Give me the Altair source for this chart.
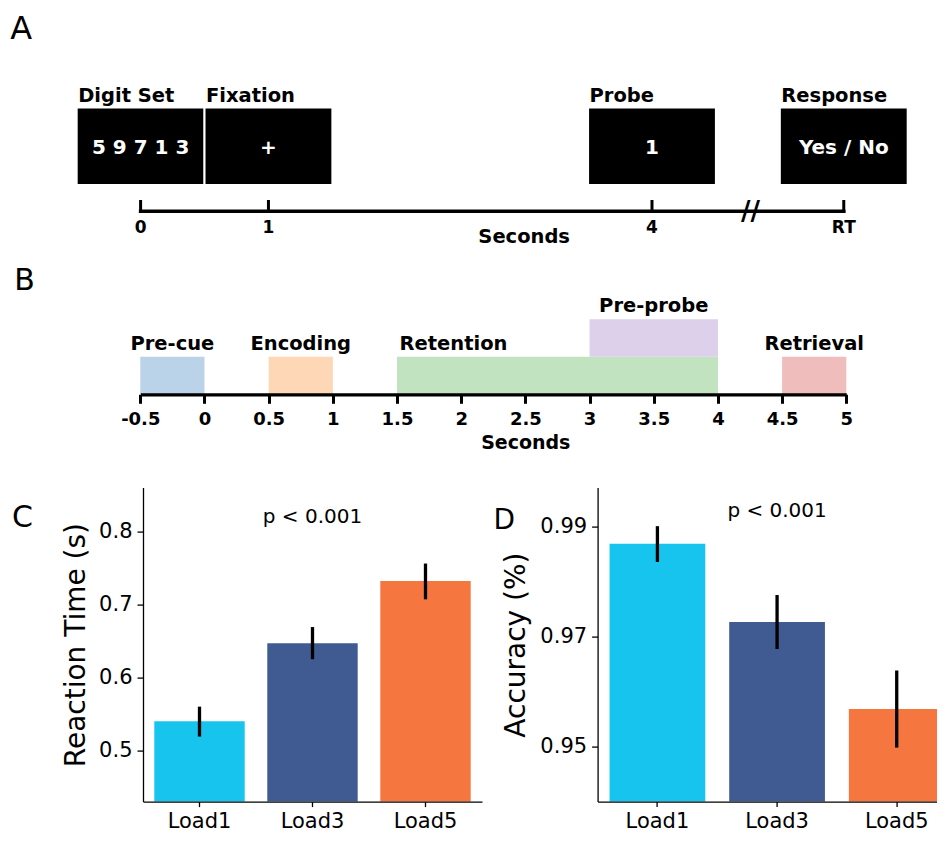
import altair as alt
import pandas as pd

# ---------------- data ----------------
# Panel A: trial structure (seconds)
stim_names = ["Digit Set", "Fixation", "Probe", "Response"]
stim_texts = ["5 9 7 1 3", "+", "1", "Yes / No"]
stim_start = [-0.5, 0.5, 3.5, 5.0]
stim_end = [0.5, 1.5, 4.5, 6.0]
a_tick_pos = [0, 1, 4, 5.5]
a_tick_text = ["0", "1", "4", "RT"]
a_break_pos = [4.77]
a_title = "Seconds"
a_title_pos = [3.0]

# Panel B: analysis windows (seconds)
phase_names = ["Pre-cue", "Encoding", "Retention", "Pre-probe", "Retrieval"]
phase_start = [-0.5, 0.5, 1.5, 3.0, 4.5]
phase_end = [0.0, 1.0, 4.0, 4.0, 5.0]
phase_row = [0, 0, 0, 1, 0]
phase_label_anchor = ["center", "center", "left", "center", "center"]
phase_colors = ["#bad3e8", "#fdd7b6", "#c1e3c0", "#ddd0ea", "#f0bdbd"]
b_tick_values = [-0.5, 0, 0.5, 1, 1.5, 2, 2.5, 3, 3.5, 4, 4.5, 5]

# Panels C and D
loads = ["Load1", "Load3", "Load5"]
load_colors = ["#17c4ed", "#3f5b92", "#f6763f"]
rt_mean = [0.540, 0.647, 0.732]
rt_low = [0.519, 0.625, 0.707]
rt_high = [0.560, 0.669, 0.756]
acc_mean = [0.9868, 0.9726, 0.9568]
acc_low = [0.9835, 0.9677, 0.9498]
acc_high = [0.9900, 0.9775, 0.9638]
p_text = "p < 0.001"
rt_p_y = 0.8113
acc_p_y = 0.9916

# ---------------- layout / style ----------------
FONT = "DejaVu Sans"
A_W, A_H = 794, 192.7
B_W, B_H = 794, 100
C_W, D_W, CD_H = 339, 347, 314
V_SPACE = 93.3
H_SPACE = 115.6
C_DOM = [0.43, 0.86]
D_DOM = [0.94, 0.997]

# ---------- Panel A ----------
A_TL = 203.3  # timeline position inside panel A (px from top)
XA = alt.Scale(domain=[0, 4], range=[-2.4, 509.0], nice=False, zero=False)
YA = alt.Scale(domain=[0, 100], range=[A_TL, A_TL - 100], nice=False, zero=False)


def xa(f):
    return alt.X(f, type="quantitative", scale=XA, axis=None)


def ya(f):
    return alt.Y(f, type="quantitative", scale=YA, axis=None)


stim = pd.DataFrame({"name": stim_names, "text": stim_texts,
                     "start": stim_start, "end": stim_end})
stim["mid"] = (stim["start"] + stim["end"]) / 2
stim["y0"] = 26.3
stim["y1"] = 103.8
stim["ly"] = 109.6
stim["ty"] = 57.8

boxes = alt.Chart(stim).mark_rect(color="black", stroke="white", strokeWidth=2).encode(
    x=xa("start"), x2="end", y=ya("y0"), y2="y1")
box_labels = alt.Chart(stim).mark_text(
    align="left", baseline="alphabetic", fontSize=19.5, fontWeight="bold",
    color="black", dx=1.5).encode(x=xa("start"), y=ya("ly"), text="name:N")
box_texts = alt.Chart(stim).mark_text(
    align="center", baseline="alphabetic", fontSize=20, fontWeight="bold",
    color="white").encode(x=xa("mid"), y=ya("ty"), text="text:N")

line_df = pd.DataFrame({"x0": [min(a_tick_pos)], "x1": [max(a_tick_pos)], "y": [0]})
timeline = alt.Chart(line_df).mark_rule(color="black", strokeWidth=3.5, strokeCap="square").encode(
    x=xa("x0"), x2="x1", y=ya("y"))

ticks_df = pd.DataFrame({"pos": a_tick_pos, "text": a_tick_text})
ticks_df["y0"] = 0
ticks_df["y1"] = 9.8
ticks_df["ly"] = -22
a_ticks = alt.Chart(ticks_df).mark_rule(color="black", strokeWidth=3, strokeCap="square").encode(
    x=xa("pos"), y=ya("y0"), y2="y1")
a_tick_labels = alt.Chart(ticks_df).mark_text(
    align="center", baseline="alphabetic", fontSize=17, fontWeight="bold", color="black").encode(
    x=xa("pos"), y=ya("ly"), text="text:N")

brk_df = pd.DataFrame({"pos": a_break_pos, "t": ["//"] * len(a_break_pos)})
brk_df["y"] = -8.4
a_break = alt.Chart(brk_df).mark_text(
    align="center", baseline="alphabetic", fontSize=26, fontWeight="bold", color="black").encode(
    x=xa("pos"), y=ya("y"), text="t:N")

atitle_df = pd.DataFrame({"pos": a_title_pos, "t": [a_title]})
atitle_df["y"] = -31.2
a_xtitle = alt.Chart(atitle_df).mark_text(
    align="center", baseline="alphabetic", fontSize=19.5, fontWeight="bold", color="black").encode(
    x=xa("pos"), y=ya("y"), text="t:N")


def letter(ch, x, y, size):
    return alt.Chart(pd.DataFrame({"t": [ch]})).mark_text(
        align="left", baseline="alphabetic", fontSize=size, color="black").encode(
        x=alt.value(x), y=alt.value(y), text="t:N")


panel_a = alt.layer(boxes, box_labels, box_texts, timeline, a_ticks, a_tick_labels,
                    a_break, a_xtitle, letter("A", -132.7, 30.5, 32)).properties(
    width=A_W, height=A_H)

# ---------- Panel B ----------
XB = alt.Scale(domain=[-0.5, 5], range=[-2.7, 703.3], nice=False, zero=False)
YB = alt.Scale(domain=[0, 1], range=[B_H, B_H - 37.5], nice=False, zero=False)
b_axis = alt.Axis(values=b_tick_values, labelExpr="datum.value + ''",
                  labelFontSize=18, labelFontWeight="bold", labelPadding=7.5,
                  tickSize=9, tickWidth=3, domainWidth=3.3, grid=False,
                  labelFlush=False, labelOverlap=False, zindex=1,
                  title="Seconds", titleFontSize=19, titleFontWeight="bold",
                  titleX=382.3, titleY=53.9, titleBaseline="alphabetic",
                  titleAlign="center")

ph = pd.DataFrame({"name": phase_names, "start": phase_start, "end": phase_end,
                   "row": phase_row, "anchor": phase_label_anchor, "color": phase_colors})
ph["top"] = ph["row"] + 1
ph["ly"] = ph["top"] + 0.19
ph["lx"] = [s + 0.02 if a == "left" else (s + e) / 2
            for s, e, a in zip(ph["start"], ph["end"], ph["anchor"])]


def xb(f):
    return alt.X(f, type="quantitative", scale=XB, axis=b_axis)


def yb(f):
    return alt.Y(f, type="quantitative", scale=YB, axis=None)


b_bars = alt.Chart(ph).mark_rect().encode(
    x=xb("start"), x2="end", y=yb("row"), y2="top",
    color=alt.Color("color:N", scale=None))
b_lab_c = alt.Chart(ph).transform_filter("datum.anchor == 'center'").mark_text(
    align="center", baseline="alphabetic", fontSize=19.5, fontWeight="bold", color="black").encode(
    x=xb("lx"), y=yb("ly"), text="name:N")
b_lab_l = alt.Chart(ph).transform_filter("datum.anchor == 'left'").mark_text(
    align="left", baseline="alphabetic", fontSize=19.5, fontWeight="bold", color="black").encode(
    x=xb("lx"), y=yb("ly"), text="name:N")

panel_b = alt.layer(b_bars, b_lab_c, b_lab_l, letter("B", -128.7, -4, 30)).properties(
    width=B_W, height=B_H)


# ---------- Panels C and D ----------
def bar_panel(means, lows, highs, dom, ticks, fmt, title, title_x, p_y,
              width, pad_outer, align, letter_ch, lx, ly, lsize):
    df = pd.DataFrame({"load": loads, "mean": means, "lo": lows, "hi": highs,
                       "color": load_colors})
    xs = alt.Scale(domain=loads, paddingInner=0.2, paddingOuter=pad_outer, align=align)
    ys = alt.Scale(domain=dom, nice=False, zero=False)
    x_axis = alt.Axis(title=None, labelAngle=0, labelFontSize=21, tickSize=5,
                      labelPadding=4, domainWidth=1.3, tickWidth=1.3, zindex=1)
    y_axis = alt.Axis(values=ticks, format=fmt, title=title, labelFontSize=21,
                      tickSize=6, labelPadding=5, domainWidth=1.3, tickWidth=1.3,
                      grid=False, zindex=1, titleFontSize=28, titleFontWeight="normal",
                      titleX=title_x, titleY=CD_H / 2, titleAngle=270,
                      titleBaseline="alphabetic", titleAlign="center")
    X = alt.X("load:N", scale=xs, axis=x_axis)
    bars = alt.Chart(df).mark_bar().encode(
        x=X, y=alt.Y("mean:Q", scale=ys, axis=y_axis), y2=alt.datum(dom[0]),
        color=alt.Color("color:N", scale=None))
    err = alt.Chart(df).mark_rule(color="black", strokeWidth=3.3).encode(
        x=X, y=alt.Y("lo:Q", scale=ys, axis=y_axis), y2="hi:Q")
    pdf = pd.DataFrame({"load": [loads[1]], "y": [p_y], "t": [p_text]})
    ptxt = alt.Chart(pdf).mark_text(align="center", baseline="alphabetic",
                                    fontSize=20, color="black").encode(
        x=X, y=alt.Y("y:Q", scale=ys, axis=y_axis), text="t:N")
    return alt.layer(bars, err, ptxt, letter(letter_ch, lx, ly, lsize)).properties(
        width=width, height=CD_H)


panel_c = bar_panel(rt_mean, rt_low, rt_high, C_DOM, [0.5, 0.6, 0.7, 0.8], ".1f",
                    "Reaction Time (s)", -58.3, rt_p_y, C_W, 0.1, 0.5,
                    "C", -131.1, 39, 30)
panel_d = bar_panel(acc_mean, acc_low, acc_high, D_DOM, [0.95, 0.97, 0.99], ".2f",
                    "Accuracy (%)", -72.8, acc_p_y, D_W, 0.05, 1,
                    "D", -104, 41, 28)

bottom = alt.hconcat(panel_c, panel_d, spacing=H_SPACE, bounds="flush")

# the original figure is cropped at its right edge: trim the last pixels of panel D
chart = alt.vconcat(panel_a, panel_b, bottom, spacing=V_SPACE, bounds="flush").properties(
    padding={"left": 2, "top": 0, "right": -8.3, "bottom": 0}
).configure(font=FONT).configure_view(stroke=None).configure_axis(
    labelColor="black", titleColor="black", domainColor="black", tickColor="black",
    labelFont=FONT, titleFont=FONT)

chart.save("out.html", embed_options={"renderer": "svg", "actions": False})
